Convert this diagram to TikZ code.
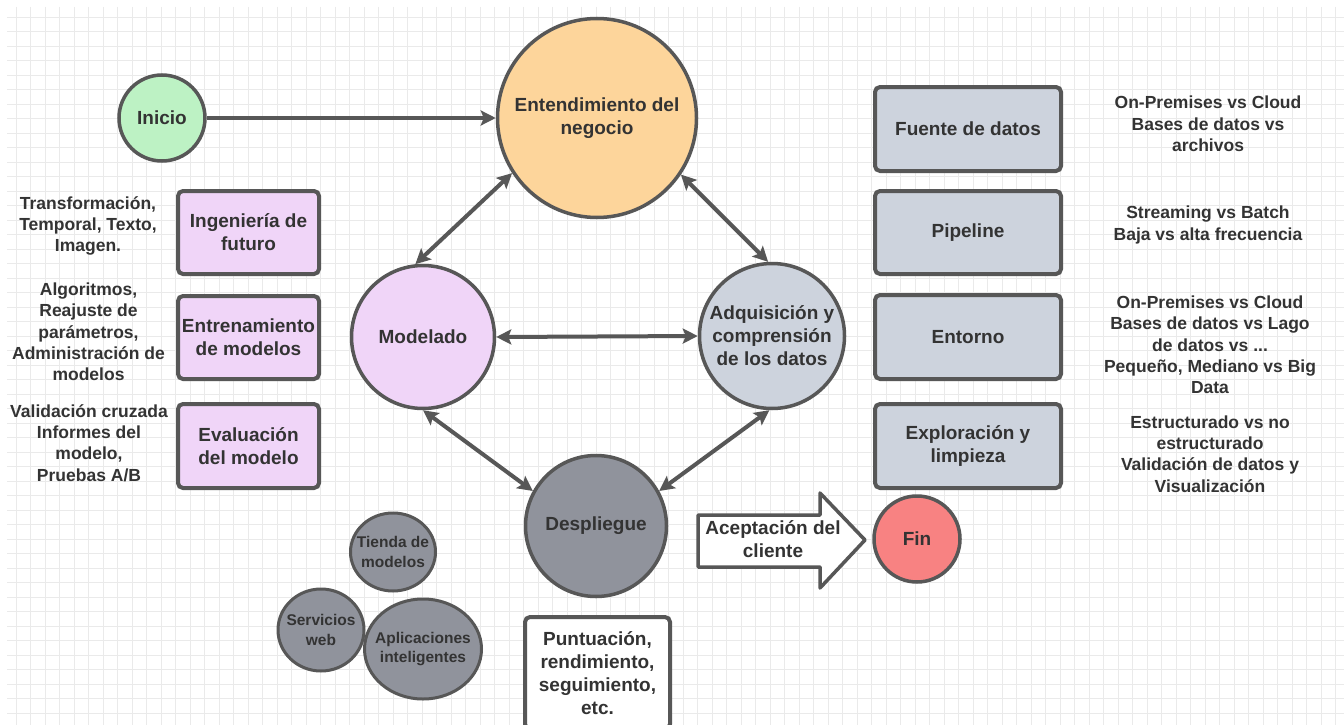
\documentclass[tikz,border=0pt]{standalone}
\usepackage{fontspec}
\setmainfont{Liberation Sans}
\usetikzlibrary{arrows.meta,shapes.geometric}
\definecolor{txt}{HTML}{333333}
\definecolor{edge}{HTML}{575757}
\definecolor{gridc}{HTML}{EAEAEA}
\definecolor{cgreen}{HTML}{BDF2C4}
\definecolor{corange}{HTML}{FDD59B}
\definecolor{cpurple}{HTML}{F0D5F8}
\definecolor{cblue}{HTML}{CDD3DD}
\definecolor{cdark}{HTML}{90939C}
\definecolor{cred}{HTML}{F88282}
\begin{document}
\begin{tikzpicture}[x=1pt,y=-1pt,
  txtbig/.style={font=\fontsize{19}{23}\selectfont\bfseries, text=txt, align=center},
  txtside/.style={font=\fontsize{17.5}{21.3}\selectfont\bfseries, text=txt, align=center},
  txtsmall/.style={font=\fontsize{15.5}{19.5}\selectfont\bfseries, text=txt, align=center},
  circ/.style={circle, draw=edge, line width=3.5pt, inner sep=0pt, txtbig},
  smallcirc/.style={ellipse, draw=edge, line width=3pt, inner sep=0pt, fill=cdark},
  box/.style={rectangle, rounded corners=5pt, draw=edge, line width=4pt, inner sep=0pt, txtbig},
  conn/.style={draw=edge, line width=4pt, {Stealth[length=15pt,width=15pt,inset=3pt]}-{Stealth[length=15pt,width=15pt,inset=3pt]}},
  conn1/.style={draw=edge, line width=4pt, -{Stealth[length=15pt,width=15pt,inset=3pt]}}
]
\clip (0,0) rectangle (1344,725);
\fill[white] (0,0) rectangle (1344,725);
\begin{scope}
\clip (7,7) rectangle (1344,725);
\foreach \i in {0,...,92} \draw[gridc, line width=0.9pt] ({16+14.5*\i},7) -- ({16+14.5*\i},725);
\foreach \i in {0,...,49} \draw[gridc, line width=0.9pt] (7,{17+14.5*\i}) -- (1344,{17+14.5*\i});
\end{scope}

% main circles
\node[circ, fill=cgreen, minimum size=86] (ini) at (162,118) {Inicio};
\node[circ, fill=corange, minimum size=199] (ent) at (597,118) {Entendimiento del\\negocio};
\node[circ, fill=cpurple, minimum size=143] (mod) at (423,337) {Modelado};
\node[circ, fill=cblue, minimum size=145] (adq) at (772,336) {Adquisición y\\comprensión\\de los datos};
\node[circ, fill=cdark, minimum size=141] (des) at (596,526) {Despliegue};
\node[circ, fill=cred, minimum size=86] (fin) at (917,539) {Fin};

% small circles
\node[smallcirc, minimum width=85, minimum height=78] (tie) at (393,552) {};
\node[txtsmall] (tiet) at (tie) {Tienda de\\modelos};
\node[smallcirc, minimum width=86, minimum height=82] (ser) at (321,630) {};
\node[txtsmall] (sert) at (ser) {Servicios\\web};
\node[smallcirc, minimum width=117, minimum height=100] (apl) at (423,649) {};
\node[txtsmall] (aplt) at (apl) {Aplicaciones\\inteligentes};

% left boxes
\node[box, fill=cpurple, minimum width=141, minimum height=83] (ing) at (248.5,232.5) {Ingeniería de\\futuro};
\node[box, fill=cpurple, minimum width=141, minimum height=83] (ent2) at (248.5,337.5) {Entrenamiento\\de modelos};
\node[box, fill=cpurple, minimum width=141, minimum height=84] (eva) at (248.5,446) {Evaluación\\del modelo};

% right boxes
\node[box, fill=cblue, minimum width=186, minimum height=84] (fue) at (968,129) {Fuente de datos};
\node[box, fill=cblue, minimum width=186, minimum height=83] (pip) at (968,232.5) {Pipeline};
\node[box, fill=cblue, minimum width=186, minimum height=84] (ento) at (968,337) {Entorno};
\node[box, fill=cblue, minimum width=186, minimum height=84] (exp) at (968,446) {Exploración y\\limpieza};

% bottom box
\node[box, fill=white, minimum width=145, minimum height=112] (pun) at (597.5,673) {Puntuación,\\rendimiento,\\seguimiento,\\etc.};

% acceptance arrow
\draw[draw=edge, fill=white, line width=3.5pt, line join=round] (698,515) -- (820,515) -- (820,493) -- (865,540) -- (820,588) -- (820,567) -- (698,567) -- cycle;
\node[txtbig] (acep) at (773,539) {Aceptación del\\cliente};

% side texts
\node[txtside] (t1) at (88,226) {Transformación,\\Temporal, Texto,\\Imagen.};
\node[txtside] (t2) at (88.5,332) {Algoritmos,\\Reajuste de\\parámetros,\\Administración de\\modelos};
\node[txtside] (t3) at (89,443) {Validación cruzada\\Informes del\\modelo,\\Pruebas A/B};
\node[txtside] (r1) at (1208,124) {On-Premises vs Cloud\\Bases de datos vs\\archivos};
\node[txtside] (r2) at (1208,225) {Streaming vs Batch\\Baja vs alta frecuencia};
\node[txtside] (r3) at (1210,345) {On-Premises vs Cloud\\Bases de datos vs Lago\\de datos vs ...\\Pequeño, Mediano vs Big\\Data};
\node[txtside] (r4) at (1210,454) {Estructurado vs no\\estructurado\\Validación de datos y\\Visualización};

% connectors
\draw[conn1] (ini.east) -- (ent.west);
\draw[conn] (ent.213) -- (mod.96);
\draw[conn] (ent.326) -- (adq.93);
\draw[conn] (mod.east) -- (adq.west);
\draw[conn] (mod.270) -- (des.151);
\draw[conn] (adq.268) -- (des.29);
\end{tikzpicture}
\end{document}
